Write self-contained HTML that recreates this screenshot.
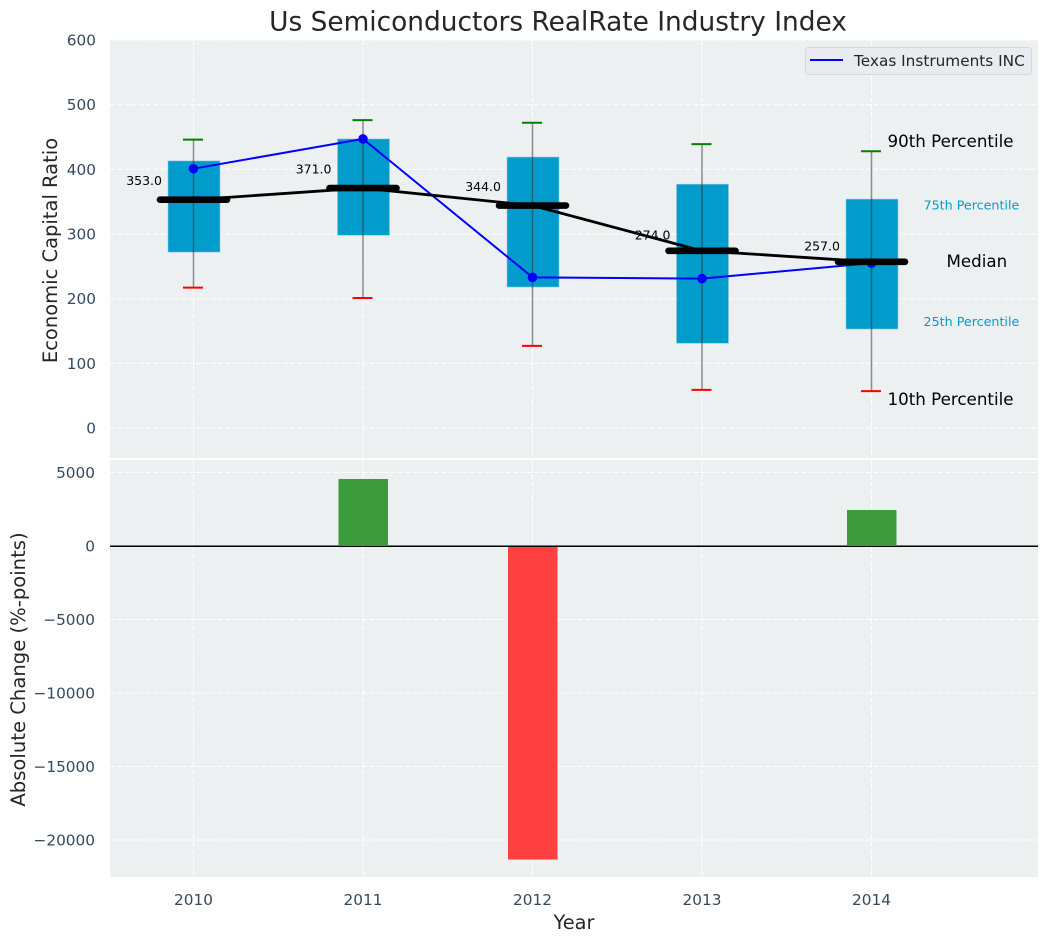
<!DOCTYPE html>
<html lang="en">
<head>
<meta charset="utf-8">
<title>Us Semiconductors RealRate Industry Index</title>
<style>
html,body{margin:0;padding:0;background:#fff;}
svg{display:block;font-family:"DejaVu Sans","Liberation Sans",sans-serif;}
</style>
</head>
<body>
<svg id="chart" width="1048" height="942" viewBox="0 0 1048 942" xmlns="http://www.w3.org/2000/svg">
  <rect width="1048" height="942" fill="#ffffff"/>
  <text x="558" y="30.5" font-size="26.4" text-anchor="middle" fill="#262626">Us Semiconductors RealRate Industry Index</text>
  <rect x="110" y="40" width="928" height="418" fill="#ecf0f1"/>
  <rect x="110" y="460" width="928" height="417" fill="#ecf0f1"/>
  <g id="grid"></g>
  <g id="bars"></g>
  <g id="boxes"></g>
  <g id="ticks"></g>
  <text transform="translate(57,250.5) rotate(-90)" font-size="19.5" text-anchor="middle" fill="#262626">Economic Capital Ratio</text>
  <text transform="translate(25,669.5) rotate(-90)" font-size="19.6" text-anchor="middle" fill="#262626">Absolute Change (%-points)</text>
  <text x="574" y="929" font-size="19.4" text-anchor="middle" fill="#262626">Year</text>
  <g>
    <rect x="805.5" y="47.5" width="226" height="27" rx="3" fill="#e9ebf0" stroke="#d5d7db" stroke-width="1"/>
    <line x1="810" y1="60" x2="843" y2="60" stroke="#0000ff" stroke-width="2"/>
    <text x="854" y="66" font-size="15.3" fill="#262626">Texas Instruments INC</text>
  </g>
</svg>
<script>
var years = [2010, 2011, 2012, 2013, 2014];
var p10 = [217, 201, 127, 59, 57];
var p25 = [272, 298, 218, 131, 153];
var medians = [353, 371, 344, 274, 257];
var p75 = [413, 447, 419, 377, 354];
var p90 = [446, 476, 472, 439, 428];
var company = [401, 447, 233, 231, 255];
var changes = [0, 4560, -21330, 0, 2450];
var topTicks = [0, 100, 200, 300, 400, 500, 600];
var bottomTicks = [5000, 0, -5000, -10000, -15000, -20000];

var NS = 'http://www.w3.org/2000/svg';
function xS(v) { return 193.5 + (v - 2010) * 169.5; }
function yT(v) { return 428 - v * 0.6467; }
function yB(v) { return 546 - v * 0.0147; }
function add(parent, tag, attrs, text) {
  var el = document.createElementNS(NS, tag);
  for (var k in attrs) { el.setAttribute(k, attrs[k]); }
  if (text !== undefined) { el.textContent = text; }
  parent.appendChild(el);
  return el;
}
function fmt(v) { return String(v).replace('-', '\u2212'); }

var grid = document.getElementById('grid');
var bars = document.getElementById('bars');
var boxes = document.getElementById('boxes');
var ticks = document.getElementById('ticks');
var gridStyle = { stroke: '#ffffff', 'stroke-width': 1.1, 'stroke-dasharray': '5 2.2', 'stroke-opacity': 0.95 };
function gridLine(x1, y1, x2, y2) {
  var a = { x1: x1, y1: y1, x2: x2, y2: y2 };
  for (var k in gridStyle) { a[k] = gridStyle[k]; }
  var el = add(grid, 'line', a);
  
  
}
topTicks.forEach(function (t) {
  gridLine(110, yT(t), 1038, yT(t));
  var el = add(ticks, 'text', { x: 96, y: yT(t) + 5.5, 'font-size': 15.3, 'text-anchor': 'end', fill: '#34495e' }, fmt(t));
  
  
});
bottomTicks.forEach(function (t) {
  gridLine(110, yB(t), 1038, yB(t));
  var el = add(ticks, 'text', { x: 95, y: yB(t) + 5.5, 'font-size': 15.3, 'text-anchor': 'end', fill: '#34495e' }, fmt(t));
  
  
});
years.forEach(function (yr) {
  gridLine(xS(yr), 40, xS(yr), 458);
  gridLine(xS(yr), 460, xS(yr), 877);
  var el = add(ticks, 'text', { x: xS(yr), y: 905, 'font-size': 15.3, 'text-anchor': 'middle', fill: '#34495e' }, String(yr));
  
  
});

years.forEach(function (yr, i) {
  var v = changes[i];
  if (v === 0) { return; }
  var top = Math.min(yB(v), yB(0));
  var h = Math.abs(yB(v) - yB(0));
  var bar = add(bars, 'rect', { x: xS(yr) - 24.5, y: top, width: 49.5, height: h, fill: v > 0 ? '#3c9c3c' : '#ff4040' });
  
  
});
var zeroShade = add(bars, 'line', { x1: 110, y1: yB(0), x2: 1038, y2: yB(0), stroke: '#b8b8b8', 'stroke-width': 2 });


var zeroLine = add(bars, 'line', { x1: 110, y1: yB(0) + 0.3, x2: 1038, y2: yB(0) + 0.3, stroke: '#000000', 'stroke-width': 1.3 });



years.forEach(function (yr, i) {
  var x = xS(yr);
  var box = add(boxes, 'rect', { x: x - 25.5, y: yT(p75[i]), width: 52, height: yT(p25[i]) - yT(p75[i]), fill: '#029ccc', stroke: '#8fcbe2', 'stroke-width': 0.6 });
  
  
  var whisker = add(boxes, 'line', { x1: x, y1: yT(p90[i]), x2: x, y2: yT(p10[i]), stroke: '#333333', 'stroke-opacity': 0.55, 'stroke-width': 1.5 });
  
  
  var capHi = add(boxes, 'line', { x1: x - 10.5, y1: yT(p90[i]), x2: x + 9.5, y2: yT(p90[i]), stroke: '#008000', 'stroke-width': 2 });
  
  
  var capLo = add(boxes, 'line', { x1: x - 10.5, y1: yT(p10[i]), x2: x + 9.5, y2: yT(p10[i]), stroke: '#ff0000', 'stroke-width': 2 });
  
  
});

function polyPoints(vals) {
  return vals.map(function (v, i) { return xS(years[i]) + ',' + yT(v); }).join(' ');
}
var companyLine = add(boxes, 'polyline', { points: polyPoints(company), fill: 'none', stroke: '#0000ff', 'stroke-width': 2 });


company.forEach(function (v, i) {
  var dot = add(boxes, 'circle', { cx: xS(years[i]), cy: yT(v), r: 4.8, fill: '#0000ff' });
  
  
});
var medianLine = add(boxes, 'polyline', { points: polyPoints(medians), fill: 'none', stroke: '#000000', 'stroke-width': 2.8 });


medians.forEach(function (v, i) {
  var x = xS(years[i]);
  var bar = add(boxes, 'line', { x1: x - 33.5, y1: yT(v), x2: x + 33.5, y2: yT(v), stroke: '#000000', 'stroke-width': 6.6, 'stroke-linecap': 'round' });
  
  
  var label = add(boxes, 'text', { x: x - 31.5, y: yT(v) - (i > 2 ? 11.5 : 14.5), 'font-size': 12.5, 'text-anchor': 'end', fill: '#000000' }, v.toFixed(1));
  
  
});

var last = years.length - 1;
var xLast = xS(years[last]);
var a90 = add(boxes, 'text', { x: xLast + 16, y: yT(p90[last]) - 4, 'font-size': 16.7, fill: '#000000' }, '90th Percentile');


var a75 = add(boxes, 'text', { x: xLast + 52, y: yT(p75[last]) + 10.5, 'font-size': 12.7, fill: '#029ccc' }, '75th Percentile');


var aMed = add(boxes, 'text', { x: xLast + 75, y: yT(medians[last]) + 5, 'font-size': 16.7, fill: '#000000' }, 'Median');


var a25 = add(boxes, 'text', { x: xLast + 52, y: yT(p25[last]) - 3, 'font-size': 12.7, fill: '#029ccc' }, '25th Percentile');


var a10 = add(boxes, 'text', { x: xLast + 16, y: yT(p10[last]) + 14, 'font-size': 16.7, fill: '#000000' }, '10th Percentile');


</script>
</body>
</html>
